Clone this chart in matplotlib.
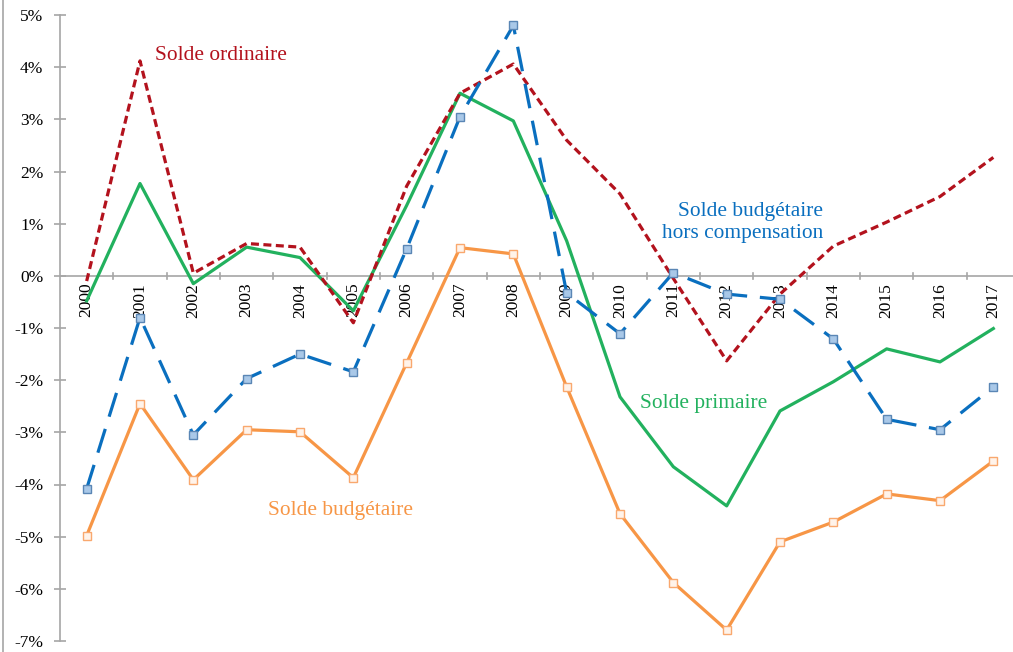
import matplotlib
matplotlib.use("Agg")
import matplotlib.pyplot as plt
from matplotlib.lines import Line2D
import numpy as np

years = ["2000", "2001", "2002", "2003", "2004", "2005", "2006", "2007", "2008",
         "2009", "2010", "2011", "2012", "2013", "2014", "2015", "2016", "2017"]

solde_ordinaire = [-0.10, 4.12, 0.05, 0.62, 0.55, -0.90, 1.72, 3.50, 4.06,
                   2.60, 1.57, -0.05, -1.63, -0.35, 0.57, 1.03, 1.52, 2.27]
solde_primaire = [-0.48, 1.77, -0.15, 0.55, 0.35, -0.67, 1.35, 3.50, 2.97,
                  0.67, -2.32, -3.66, -4.41, -2.59, -2.03, -1.40, -1.65, -1.01]
solde_hors_comp = [-4.08, -0.80, -3.05, -1.97, -1.50, -1.84, 0.52, 3.05, 4.80,
                   -0.33, -1.11, 0.06, -0.35, -0.45, -1.21, -2.75, -2.95, -2.13]
solde_budgetaire = [-4.98, -2.45, -3.91, -2.95, -2.99, -3.87, -1.67, 0.54, 0.42,
                    -2.13, -4.56, -5.88, -6.79, -5.10, -4.72, -4.18, -4.31, -3.55]

yticks = list(range(-7, 6))

plt.rcParams['font.family'] = ['Liberation Serif', 'DejaVu Serif']

W, H = 1013, 652
fig = plt.figure(figsize=(W / 100, H / 100), dpi=100)
ax = fig.add_axes([60 / W, (H - 641) / H, (W - 60) / W, (641 - 15) / H])

x = np.arange(len(years))
RED = '#B3121D'
GREEN = '#22B15E'
BLUE = '#0A6FBF'
ORANGE = '#F79646'

ax.plot(x, solde_budgetaire, color=ORANGE, lw=2.3, marker='s', ms=5.8,
        mfc='#FFF3EA', mec='#F9A86E', mew=1.0, zorder=3)
ax.plot(x, solde_primaire, color=GREEN, lw=2.3, zorder=4)
ax.plot(x, solde_ordinaire, color=RED, lw=2.3, dashes=(2.5, 1.4), zorder=5)
ax.plot(x, solde_hors_comp, color=BLUE, lw=2.3, dashes=(7.8, 4.0), marker='s', ms=5.8,
        mfc='#A9C8E8', mec='#5A86B5', mew=1.0, zorder=6)

ax.set_xlim(-0.5, 17.5 - 7 / 53.3)
ax.set_ylim(-7, 5)

for s in ['top', 'right', 'bottom']:
    ax.spines[s].set_visible(False)
ax.spines['left'].set_color('#A6A6A6')
ax.spines['left'].set_linewidth(1.2)

ax.axhline(0, color='#A6A6A6', lw=1.2, zorder=1)

ax.set_yticks(yticks)
ax.set_yticklabels([f"{v}%" for v in yticks])
ax.tick_params(axis='y', direction='inout', length=9, width=1.2, color='#A6A6A6',
               pad=7.5, labelsize=12.5)

ax.set_xticks(x)
ax.set_xticklabels(years, rotation=90, va='top', ha='center')
ax.tick_params(axis='x', which='major', length=0, pad=6, labelsize=12.5)
for lab in ax.get_xticklabels():
    lab.set_transform(ax.transData + matplotlib.transforms.ScaledTranslation(0, -7 / 100, fig.dpi_scale_trans))
    lab.set_y(0)
for b in np.arange(0.5, 17.5, 1.0):
    ax.plot([b, b], [-0.06, 0.06], color='#A6A6A6', lw=1.2, zorder=1, clip_on=False)

ax.text(1.28, 4.23, "Solde ordinaire", color=RED, fontsize=15.4, ha='left', va='center')
ax.text(13.81, 1.03, "Solde budgétaire\nhors compensation", color=BLUE, fontsize=15.4,
        ha='right', va='center', multialignment='right', linespacing=1.2)
ax.text(10.38, -2.44, "Solde primaire", color=GREEN, fontsize=15.4, ha='left', va='center')
ax.text(3.40, -4.49, "Solde budgétaire", color=ORANGE, fontsize=15.4, ha='left', va='center')

fig.add_artist(Line2D([3 / W, 3 / W], [0, 1], color='#A6A6A6', lw=1.2))

fig.savefig("out.png", dpi=100)
